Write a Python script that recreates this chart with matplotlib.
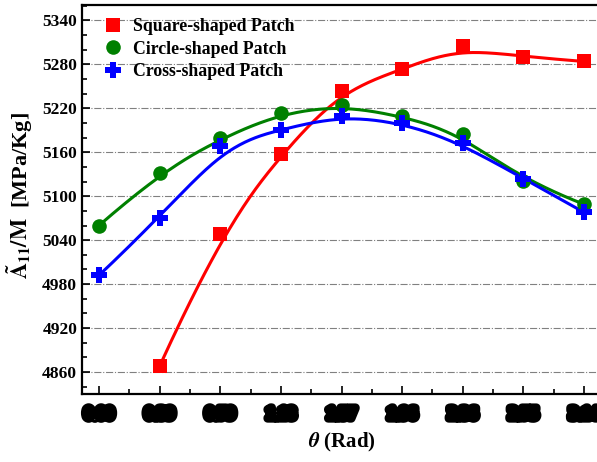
import numpy as np
import matplotlib.pyplot as plt
import matplotlib.patheffects as pe
from matplotlib.ticker import MultipleLocator

# ------------------------------------------------------
# data
# ------------------------------------------------------
theta_idx = np.arange(9)
theta_labels = ['0.00', '0.39', '0.79', '1.18', '1.57',
                '1.96', '2.36', '2.75', '3.14']

square_x = theta_idx[1:]
square_y = [4868, 5049, 5158, 5244, 5273, 5305, 5290, 5284]

circle_x = theta_idx
circle_y = [5060, 5132, 5179, 5213, 5224, 5209, 5185, 5121, 5089]

cross_x = theta_idx
cross_y = [4992, 5070, 5168, 5191, 5210, 5200, 5172, 5124, 5078]


def bspline(x, y, n=300, k=3):
    # clamped uniform B-spline, data points used as control points
    P = np.column_stack([x, y]).astype(float)
    m = len(P)
    inner = np.arange(1, m - k)
    knots = np.concatenate([np.zeros(k + 1), inner, np.full(k + 1, m - k)]).astype(float)
    ts = np.linspace(0, m - k, n)
    ts[-1] -= 1e-9

    def basis(i, p, t):
        if p == 0:
            return ((knots[i] <= t) & (t < knots[i + 1])).astype(float)
        out = np.zeros_like(t)
        d1 = knots[i + p] - knots[i]
        d2 = knots[i + p + 1] - knots[i + 1]
        if d1 > 0:
            out += (t - knots[i]) / d1 * basis(i, p - 1, t)
        if d2 > 0:
            out += (knots[i + p + 1] - t) / d2 * basis(i + 1, p - 1, t)
        return out

    B = np.array([basis(i, k, ts) for i in range(m)])
    curve = B.T @ P
    return curve[:, 0], curve[:, 1]


plt.rcParams['font.family'] = 'Liberation Serif'
plt.rcParams['font.weight'] = 'bold'
plt.rcParams['mathtext.fontset'] = 'stix'

fig = plt.figure(figsize=(5.97, 4.62), dpi=100)
ax = fig.add_axes([82 / 597, (462 - 394) / 462, 519 / 597, 389 / 462])

series = [
    (square_x, square_y, 'red', 's', 'Square-shaped Patch', 9.5),
    (circle_x, circle_y, 'green', 'o', 'Circle-shaped Patch', 10.5),
    (cross_x, cross_y, 'blue', 'P', 'Cross-shaped Patch', 11.5),
]
for x, y, col, mk, lab, ms in series:
    xs, ys = bspline(x, y)
    ax.plot(xs, ys, color=col, linewidth=2.2, zorder=3)
    ax.plot(x, y, linestyle='none', marker=mk, color=col, markersize=ms,
            markeredgewidth=0, label=lab, zorder=4)

ax.set_xlim(-0.28, 8.28)
ax.set_ylim(4830, 5361)
ax.set_xticks(theta_idx)
ax.set_xticklabels(theta_labels)
ax.xaxis.set_minor_locator(MultipleLocator(0.5))
ax.yaxis.set_minor_locator(MultipleLocator(20))
ax.set_yticks(np.arange(4860, 5341, 60))

ax.grid(axis='y', which='major', color='gray', linestyle='-.', linewidth=0.8)
ax.set_axisbelow(True)

ax.tick_params(which='both', direction='in', top=False, right=False, labelsize=12.5)
ax.tick_params(which='major', length=6, width=1.2)
ax.tick_params(which='minor', length=3.5, width=1.2)
ax.tick_params(axis='x', pad=9, labelsize=12)
for lbl in ax.get_xticklabels():
    lbl.set_fontweight('bold')
    lbl.set_path_effects([pe.withStroke(linewidth=6, foreground='black')])
for lbl in ax.get_yticklabels():
    lbl.set_fontweight('bold')

for s in ax.spines.values():
    s.set_linewidth(1.6)

ax.set_xlabel(r'$\mathit{\theta}$ (Rad)', fontsize=15, fontweight='bold')
ax.xaxis.set_label_coords(0.5, -0.095)
ax.set_ylabel(r'$\tilde{\mathbf{A}}_{\mathbf{11}}\mathbf{/M}$  [MPa/Kg]',
              fontsize=16, fontweight='bold')
ax.yaxis.set_label_coords(-0.09, 0.51)

leg = ax.legend(loc='upper left', frameon=False, fontsize=12.8,
                handletextpad=0.55, labelspacing=0.3, borderaxespad=0.3,
                handlelength=1.2, bbox_to_anchor=(0.015, 0.998))
for t in leg.get_texts():
    t.set_fontweight('bold')

fig.savefig('out.png', dpi=100)
